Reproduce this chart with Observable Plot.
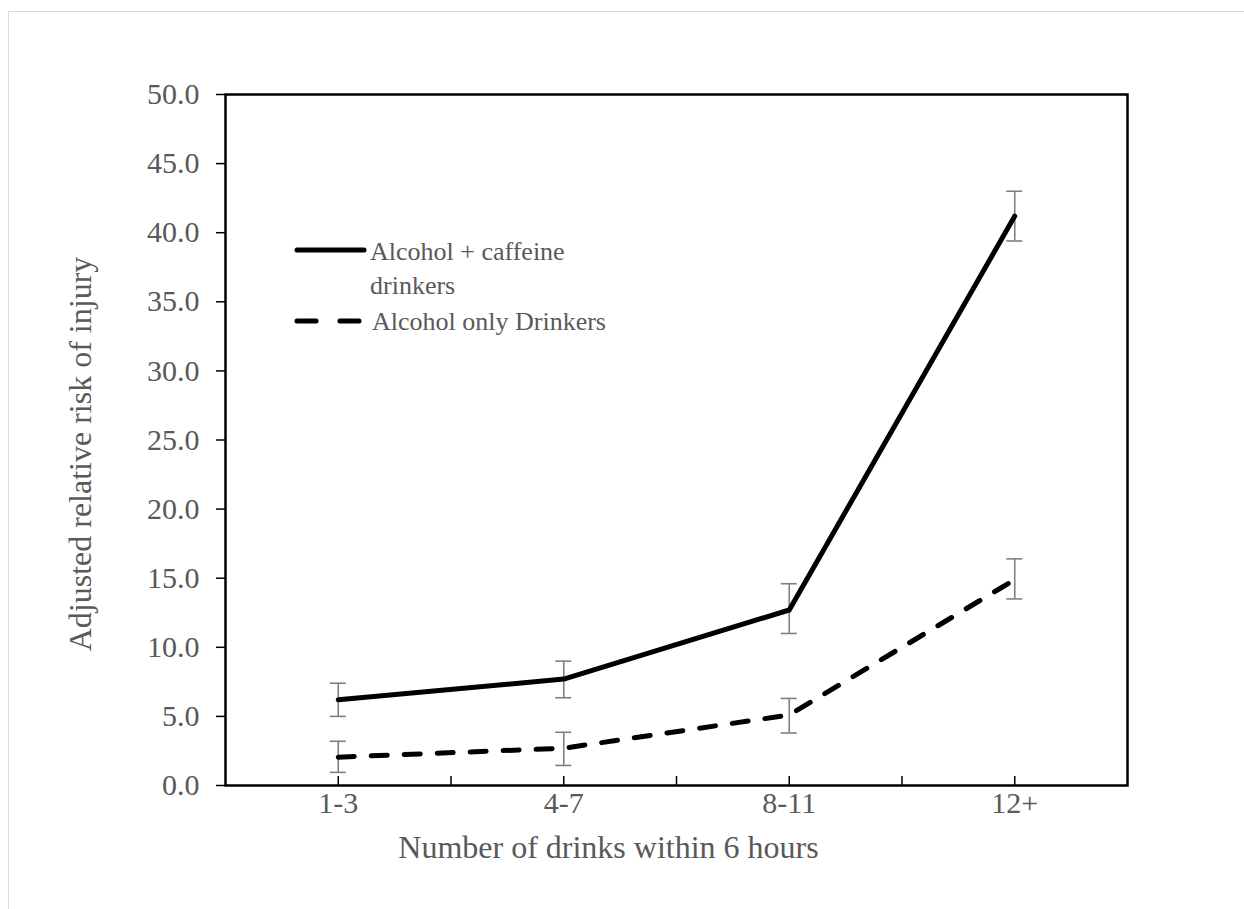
<!DOCTYPE html>
<html>
<head>
<meta charset="utf-8">
<script src="https://cdn.jsdelivr.net/npm/d3@7"></script>
<script src="https://cdn.jsdelivr.net/npm/@observablehq/plot@0.6"></script>
<style>
  html, body { margin: 0; padding: 0; background: #fff; }
  #wrap { position: relative; width: 1244px; height: 909px; overflow: hidden; font-family: "Liberation Serif", serif; }
  #border { position: absolute; left: 8px; top: 11px; width: 1260px; height: 920px; border: 1.5px solid #d9d9d9; box-sizing: border-box; }
  #chart { position: absolute; left: 0; top: 0; }
  #legend { position: absolute; left: 0; top: 0; }
  svg text { font-family: "Liberation Serif", serif; }
</style>
</head>
<body>
<div id="wrap">
  <div id="border"></div>
  <div id="chart"></div>
  <svg id="legend" width="1244" height="909"></svg>
</div>
<script>
const categories = ["1-3", "4-7", "8-11", "12+"];
const caffeineValues = [6.2, 7.7, 12.7, 41.2];
const caffeineLow = [5.0, 6.35, 11.0, 39.4];
const caffeineHigh = [7.4, 9.0, 14.6, 43.0];
const alcoholValues = [2.05, 2.7, 5.1, 14.9];
const alcoholLow = [0.95, 1.45, 3.8, 13.5];
const alcoholHigh = [3.2, 3.85, 6.3, 16.4];
const yTicks = [0, 5, 10, 15, 20, 25, 30, 35, 40, 45, 50];
const seriesNames = [["Alcohol + caffeine", "drinkers"], ["Alcohol only Drinkers"]];
const xTitle = "Number of drinks within 6 hours";
const yTitle = "Adjusted relative risk of injury";

const pos = categories.map((c, i) => i + 1);
const caffeine = categories.map((c, i) => ({x: pos[i], v: caffeineValues[i], lo: caffeineLow[i], hi: caffeineHigh[i]}));
const alcohol = categories.map((c, i) => ({x: pos[i], v: alcoholValues[i], lo: alcoholLow[i], hi: alcoholHigh[i]}));
const errs = caffeine.concat(alcohol);
const xTickPos = d3.range(1, categories.length + 0.01, 0.5);

const font = "Liberation Serif, serif";
const gray = "#595959";
const errColor = "#808080";

const chart = Plot.plot({
  width: 1244,
  height: 909,
  marginLeft: 225,
  marginRight: 117,
  marginTop: 94,
  marginBottom: 124,
  style: {fontFamily: font, background: "transparent"},
  x: {type: "linear", domain: [0.5, categories.length + 0.5]},
  y: {domain: [0, 50]},
  marks: [
    Plot.ruleX(xTickPos, {x: d => d, y1: 0, y2: 0, insetBottom: 9, stroke: "black", strokeWidth: 1.5}),
    // error bars
    Plot.ruleX(errs, {x: "x", y1: "lo", y2: "hi", stroke: errColor, strokeWidth: 1.6}),
    Plot.ruleY(errs, {y: "lo", x1: "x", x2: "x", insetLeft: -8, insetRight: -8, stroke: errColor, strokeWidth: 1.6}),
    Plot.ruleY(errs, {y: "hi", x1: "x", x2: "x", insetLeft: -8, insetRight: -8, stroke: errColor, strokeWidth: 1.6}),
    // series lines
    Plot.line(caffeine, {x: "x", y: "v", stroke: "black", strokeWidth: 5, strokeLinejoin: "round", strokeLinecap: "round"}),
    Plot.line(alcohol, {x: "x", y: "v", stroke: "black", strokeWidth: 5, strokeDasharray: "16,17", strokeLinecap: "round", strokeLinejoin: "round"}),
    Plot.frame({stroke: "black", strokeWidth: 2.5}),
    Plot.axisY({ticks: yTicks, tickSize: 9, tickPadding: 17, tickFormat: d3.format(".1f"), fontSize: 30, color: gray, stroke: "black", strokeWidth: 1.5, label: null}),
    Plot.axisX({ticks: pos, tickSize: 0, tickPadding: 6, tickFormat: d => categories[d - 1], fontSize: 30, color: gray, label: null}),
    Plot.text([xTitle], {frameAnchor: "bottom", dx: -68, dy: 72, fontSize: 32, fill: gray}),
    Plot.text([yTitle], {frameAnchor: "left", dx: -145, dy: 14, rotate: -90, textAnchor: "middle", fontSize: 32, fill: gray})
  ]
});
document.getElementById("chart").appendChild(chart);

// legend
const lg = d3.select("#legend");
lg.append("line").attr("x1", 297).attr("x2", 364).attr("y1", 250).attr("y2", 250)
  .attr("stroke", "black").attr("stroke-width", 5).attr("stroke-linecap", "round");
lg.append("line").attr("x1", 297).attr("x2", 364).attr("y1", 321).attr("y2", 321)
  .attr("stroke", "black").attr("stroke-width", 5).attr("stroke-linecap", "round")
  .attr("stroke-dasharray", "19,24");
const t1 = lg.append("text").attr("x", 370).attr("y", 260).attr("fill", gray)
  .attr("font-family", font).attr("font-size", 26);
seriesNames[0].forEach((s, i) => t1.append("tspan").attr("x", 370).attr("dy", i ? 34 : 0).text(s));
lg.append("text").attr("x", 372).attr("y", 330).attr("fill", gray)
  .attr("font-family", font).attr("font-size", 26).text(seriesNames[1][0]);
</script>
</body>
</html>
